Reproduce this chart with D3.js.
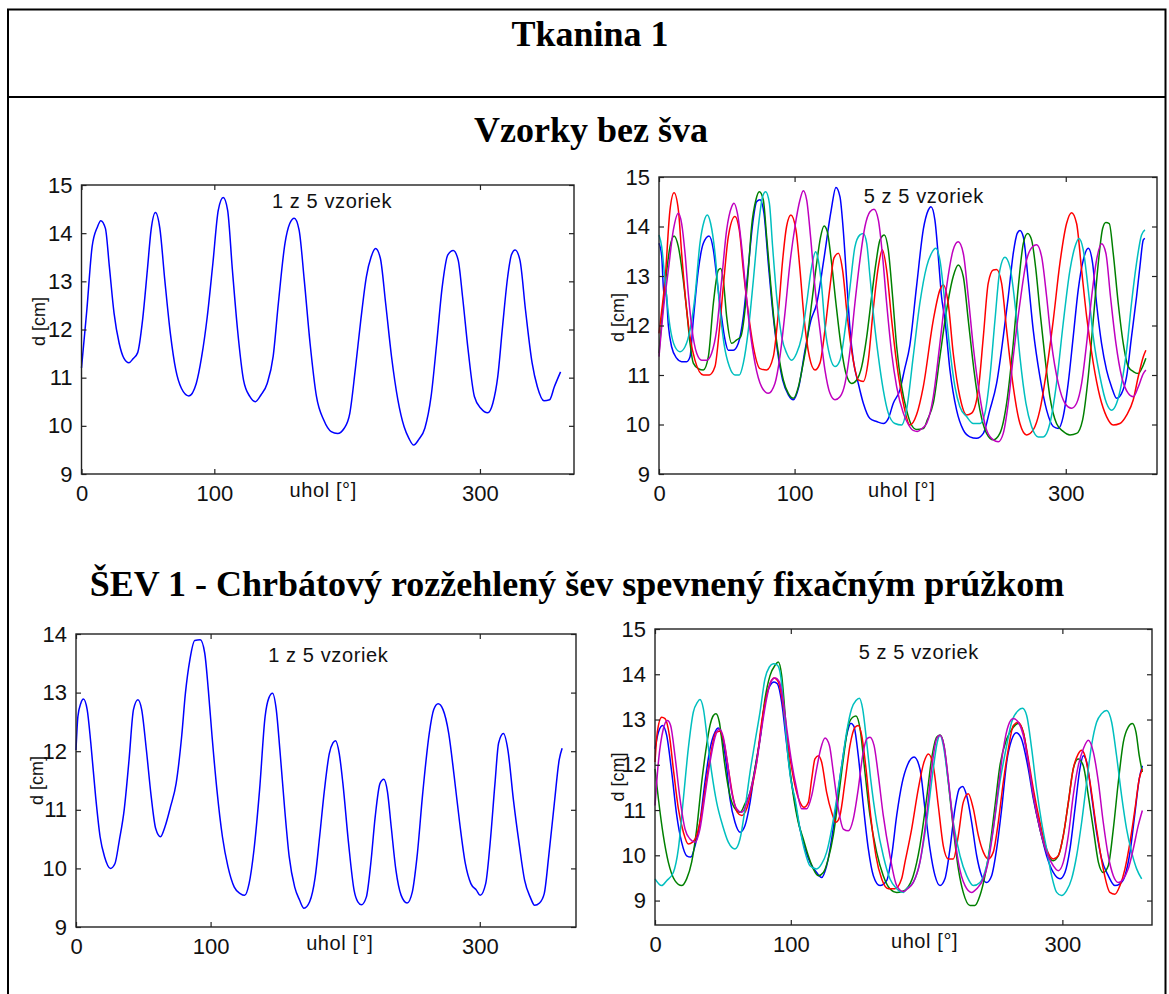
<html>
<head>
<meta charset="utf-8">
<script src="https://d3js.org/d3.v7.min.js"></script>
<style>
  body { margin: 0; background: #fff; }
</style>
</head>
<body>
<script>
// ---- data: [uhol, d] pairs ----
var xTicks = [0, 100, 300];
var yTicks15 = [9, 10, 11, 12, 13, 14, 15];
var yTicks14 = [9, 10, 11, 12, 13, 14];

// Vzorky bez sva, 1 z 5
var tl1 = [[0,11.2],[4,12.4],[8,13.72],[12,14.13],[14.5,14.26],[18,14.1],[21,13.3],[24.5,12.34],[28.4,11.71],[32,11.4],[35.7,11.31],[39,11.4],[42.3,11.52],[46,12.2],[49.6,13.24],[52.4,14.07],[55.7,14.43],[59,14.1],[62.7,13.03],[66.9,11.92],[71,11.16],[75.2,10.78],[80.8,10.62],[86.4,10.88],[90.5,11.44],[94.7,12.27],[98.9,13.37],[103,14.48],[106.7,14.74],[110,14.48],[113.6,13.24],[117.5,11.99],[122,10.95],[126.7,10.61],[130.9,10.5],[135.1,10.64],[139.8,10.88],[144.3,11.44],[148.2,12.54],[153.2,13.79],[156.8,14.2],[160.2,14.31],[163.8,14.07],[167.7,13.03],[172.1,11.71],[176.9,10.61],[182.4,10.12],[188,9.88],[192.8,9.84],[197.8,9.95],[202,10.26],[206.1,11.16],[210.3,12.2],[214.5,13.1],[218.1,13.51],[221.4,13.68],[225,13.48],[229,12.54],[233.4,11.44],[238.2,10.54],[242.9,9.98],[246.5,9.74],[250.1,9.6],[254,9.72],[258.5,9.95],[263.2,10.61],[267.4,11.71],[271.6,12.89],[275.8,13.55],[279.9,13.64],[283.6,13.44],[286.9,12.68],[291.1,11.57],[295.8,10.61],[300.8,10.36],[305.8,10.27],[309.7,10.47],[313.4,11.02],[317,12.06],[320.9,13.1],[323.7,13.55],[326.5,13.65],[330.1,13.44],[334.3,12.4],[339.3,11.3],[343.2,10.81],[348.2,10.52],[352.4,10.54],[356,10.81],[360.7,11.12]];

// Vzorky bez sva, 5 z 5
var trBlue = [[0,13.66],[2,13.4],[3.7,12.6],[5,12.75],[6.9,12.0],[9.3,11.57],[13,11.34],[16.7,11.27],[20.4,11.27],[22.9,11.37],[25.3,12.11],[29,13.12],[32.7,13.66],[36.9,13.81],[40.1,13.53],[42.5,12.99],[45.5,12.31],[48.7,11.71],[51.1,11.5],[54.8,11.5],[58.5,11.64],[62.2,12.18],[65.9,13.19],[69.1,14.06],[72,14.5],[74.5,14.54],[77.4,14.27],[80.6,13.26],[83.8,12.31],[87.3,11.5],[91.2,10.9],[95.4,10.6],[99.1,10.5],[103,10.75],[107.7,11.5],[112,12.1],[116.3,12.44],[121.5,13.32],[127,14.33],[130.5,14.79],[133.5,14.6],[135.9,13.93],[138.4,12.92],[140.9,11.91],[143.3,11.3],[147,10.83],[150.7,10.43],[155.6,10.12],[160.5,10.06],[165.4,10.02],[169.1,10.12],[172.8,10.43],[177.7,10.7],[181,11.1],[185,11.6],[190,12.8],[195,13.95],[198.6,14.33],[200.6,14.4],[203.5,14.13],[206,13.39],[208.4,12.58],[210.9,12.11],[214.6,11.1],[219.5,10.29],[224.4,9.89],[229.3,9.75],[234.2,9.72],[239.2,9.82],[244,10.29],[249,10.83],[253.9,11.77],[257.6,12.58],[261.3,13.46],[264.2,13.86],[266.2,13.92],[268.7,13.79],[272.3,12.92],[276,11.91],[280.9,10.97],[285.9,10.29],[290.8,9.96],[294.5,9.92],[298.1,10.16],[301.8,10.83],[305.5,11.77],[309.2,12.72],[312.9,13.32],[316.6,13.56],[319.8,13.26],[322.7,12.45],[326.4,11.64],[330.1,11.1],[333.8,10.76],[337.5,10.53],[341.2,10.63],[344.9,10.97],[348.5,11.77],[352.2,12.58],[354.7,13.19],[357.2,13.73],[358.4,13.76]];
var trGreen = [[0,11.44],[4.4,12.78],[8.1,13.59],[11.1,13.81],[14.3,13.59],[17.9,12.92],[20.4,12.31],[22.9,11.64],[25.3,11.24],[29,11.13],[32.7,11.1],[36.4,11.37],[40.1,12.45],[43.8,13.12],[45.5,13.15],[47.4,12.92],[49.9,12.18],[53.6,11.64],[57.3,11.71],[60.2,11.77],[63.4,12.31],[65.9,13.12],[68.3,14.0],[71.5,14.54],[74,14.7],[76.9,14.54],[79.4,13.79],[81.9,12.99],[84.8,12.11],[88,11.44],[91.7,10.9],[95.4,10.63],[99.1,10.53],[102.8,10.76],[105.9,11.17],[108.9,11.64],[112.6,12.45],[116.3,13.26],[119.2,13.79],[121.7,14.01],[124.1,13.9],[127.3,13.26],[130.5,12.45],[134,11.64],[137.9,11.03],[142.1,10.83],[145.8,10.9],[149.5,11.17],[153.2,11.77],[156.8,12.58],[160,13.26],[163,13.73],[166.2,13.83],[169.1,13.53],[172.3,12.58],[175.3,11.57],[179,10.76],[182.6,10.29],[186,10.0],[190,9.9],[195,9.92],[198,10.1],[202.3,10.43],[207.2,11.37],[212.1,12.31],[217,12.99],[220.7,13.22],[224.4,12.99],[228.1,12.11],[232.3,11.1],[236.7,10.29],[241.6,9.82],[246.5,9.69],[251.4,9.82],[256.4,10.43],[261.3,11.64],[265,12.78],[268.7,13.66],[271.9,13.86],[274.8,13.73],[278,13.12],[280.9,12.31],[284.6,11.37],[288.3,10.56],[293.2,10.02],[298.1,9.86],[303.1,9.79],[308,9.82],[312.4,10.09],[316.6,10.97],[320.3,12.11],[324,13.26],[327.2,13.96],[329.6,14.08],[332.1,14.06],[335,13.46],[338.7,12.45],[342.4,11.64],[346.1,11.17],[349.8,11.07],[353.5,11.03],[356.7,11.17],[359.1,11.34]];
var trRed = [[0,11.84],[2,12.3],[4.4,12.9],[8.1,14.33],[11.1,14.68],[14.3,14.33],[16.7,13.46],[19.9,12.45],[22.9,11.77],[26.5,11.3],[32.7,11.0],[37.1,11.0],[41.3,11.17],[44.5,11.91],[47.4,12.78],[51.1,13.79],[56,14.2],[59.2,13.93],[62.2,13.12],[65.9,12.25],[69.6,11.57],[74.5,11.13],[79.4,11.1],[84.3,11.37],[88,12.25],[91.2,13.32],[94.1,14.0],[97.3,14.23],[101,13.93],[104,13.12],[106.9,12.18],[110.9,11.37],[115,11.1],[118.7,11.24],[122.4,11.91],[126.1,12.78],[129,13.36],[132.3,13.46],[135.4,13.12],[138.9,12.18],[142.8,11.37],[147,10.9],[150.7,10.87],[154.4,11.3],[158,12.32],[161.8,13.19],[164.7,13.53],[167.9,13.12],[171.6,12.11],[175.3,11.24],[180.2,10.43],[185.1,9.99],[190,10.2],[194.9,10.76],[202.3,12.11],[207.2,12.72],[209.7,12.82],[213.3,12.45],[217,11.44],[221.9,10.56],[226.9,10.19],[230.6,10.23],[235.5,10.7],[239.2,11.77],[242.8,12.85],[246.5,13.12],[249,13.13],[252.7,12.85],[256.4,11.91],[261.3,10.76],[266.2,10.02],[271.1,9.79],[276,9.89],[280.9,10.29],[285.9,11.1],[290.8,12.11],[295.7,13.26],[300.6,14.06],[304.3,14.28],[308,14.06],[311.7,13.12],[315.4,12.18],[320.3,11.24],[325.2,10.56],[330.1,10.16],[335,9.99],[339.9,10.02],[344.9,10.19],[349.8,10.5],[353.5,10.97],[357.2,11.37],[359.1,11.5]];
var trCyan = [[0,13.83],[2,13.59],[4.4,12.92],[8.1,11.98],[11.8,11.57],[15.5,11.47],[19.2,11.57],[22.9,11.91],[26.5,12.58],[30.2,13.66],[33.2,14.1],[35.6,14.23],[38.1,14.06],[41.3,13.46],[44.5,12.45],[47.9,11.64],[51.9,11.17],[56,11.0],[59.2,11.0],[62.2,11.24],[65.9,11.91],[69.6,12.92],[73.3,14.0],[76.4,14.6],[78.7,14.7],[81.4,14.47],[83.8,13.59],[86.8,12.58],[90.5,11.77],[94.2,11.44],[97.8,11.3],[101.5,11.44],[105.2,11.77],[108.9,12.45],[112.6,13.19],[115.5,13.49],[117.5,13.32],[120,12.78],[122.4,11.98],[126.1,11.37],[129.8,11.17],[133.5,11.3],[137.2,11.91],[140.9,12.78],[144.5,13.59],[148.2,13.83],[150.7,13.86],[153.2,13.66],[155.6,12.99],[158.6,12.11],[161.8,11.37],[165.4,10.7],[169.1,10.23],[174,10.02],[179,9.99],[182.6,10.3],[187.5,11.37],[192.4,12.45],[197.4,13.19],[201,13.46],[204.2,13.56],[207.2,13.32],[210.9,12.45],[214.6,11.5],[218.3,10.76],[221.9,10.36],[226.9,10.16],[231.8,10.02],[236.7,10.02],[240.4,10.23],[244.1,10.97],[247.8,12.11],[251.4,13.12],[255.1,13.38],[258.8,13.19],[262.5,12.45],[266.2,11.37],[270.6,10.43],[274.8,9.96],[279.7,9.75],[283.4,9.75],[288.3,10.02],[293.2,10.83],[298.1,12.04],[303.1,13.12],[306.8,13.59],[309.7,13.76],[312.9,13.53],[316.6,12.72],[320.3,11.77],[325.2,10.97],[330.1,10.43],[333.8,10.29],[337.5,10.43],[341.2,10.83],[344.9,11.5],[348.5,12.45],[352.2,13.26],[355.9,13.83],[358.4,13.93]];
var trMagenta = [[0,11.37],[3.2,12.31],[6.9,13.12],[10.6,13.93],[14.3,14.27],[16.7,14.06],[19.2,13.46],[21.6,12.65],[24.1,11.98],[27.8,11.44],[31.5,11.3],[35.2,11.3],[38.8,11.44],[42.5,11.91],[46.2,12.92],[49.9,13.93],[53.6,14.4],[55.3,14.47],[57.8,14.27],[61,13.59],[64.2,12.65],[67.1,11.91],[70.8,11.24],[75.7,10.76],[80.6,10.63],[85.5,10.83],[89.2,11.37],[92.9,12.25],[96.6,13.26],[100.3,14.0],[104,14.54],[106.4,14.72],[108.9,14.54],[111.8,13.79],[115,12.78],[118.7,11.91],[122.4,11.1],[126.1,10.63],[129.8,10.5],[133.5,10.56],[137.2,10.83],[140.9,11.5],[144.5,12.45],[148.2,13.32],[151.9,14.0],[155.6,14.3],[158.6,14.35],[161.8,14.13],[164.7,13.46],[167.9,12.45],[171.6,11.44],[175.3,10.76],[180.2,10.23],[183.9,10.0],[187.5,9.88],[190.5,9.86],[194,9.92],[197.4,10.02],[202.3,10.56],[207.2,11.64],[212.1,12.78],[217,13.53],[220.7,13.69],[224.4,13.46],[228.1,12.58],[231.8,11.57],[236.7,10.56],[241.6,9.89],[246.5,9.69],[250.2,9.65],[253.9,9.82],[257.6,10.43],[261.3,11.37],[266.2,12.45],[271.1,13.32],[275.5,13.59],[278.5,13.63],[282.2,13.39],[285.9,12.58],[289.5,11.64],[294.5,10.83],[299.4,10.43],[304.3,10.33],[308,10.43],[311.7,10.83],[315.4,11.64],[319.1,12.58],[322.7,13.32],[326.4,13.65],[329.6,13.46],[333,12.58],[337,11.64],[341.2,10.97],[346.1,10.63],[349.8,10.56],[353.5,10.76],[357.2,11.03],[359.1,11.1]];

// SEV 1, 1 z 5
var bl1 = [[0,12.02],[1.4,12.59],[3.6,12.82],[5.5,12.89],[8.3,12.71],[11,12.14],[14.6,11.22],[17.9,10.54],[21.2,10.2],[25.6,10.0],[28.9,10.08],[32.2,10.48],[35.8,11.0],[39.4,11.85],[42.7,12.71],[46,12.88],[48.8,12.71],[52.3,12.02],[55.9,11.22],[59.2,10.68],[62.8,10.54],[66.1,10.71],[70.2,11.05],[74.4,11.45],[78.5,12.25],[81.3,12.99],[84.6,13.56],[88.2,13.89],[92.3,13.9],[95.6,13.68],[98.3,13.05],[101.1,12.25],[104.7,11.34],[108.8,10.54],[112.9,10.03],[117.6,9.68],[122,9.57],[125.3,9.54],[128.6,9.74],[132.2,10.31],[136.4,11.34],[140.5,12.59],[143.3,12.91],[146,12.99],[148.8,12.71],[151.5,12.02],[155.1,11.0],[158.4,10.2],[162.5,9.68],[166.1,9.46],[169.4,9.32],[173.6,9.43],[177.7,9.85],[181,10.54],[184.6,11.34],[188.2,11.96],[190.9,12.14],[192.8,12.18],[195.6,11.96],[198.3,11.45],[202.5,10.43],[206.6,9.63],[209.4,9.43],[212.1,9.38],[215.7,9.51],[219,10.08],[222.3,10.88],[225.9,11.45],[228.7,11.52],[231.4,11.31],[234.2,10.71],[237.7,9.97],[241.6,9.54],[246,9.41],[249.9,9.6],[253.4,10.2],[257.6,11.28],[262.5,12.31],[265.8,12.71],[269.1,12.81],[272.7,12.71],[276.9,12.31],[281,11.57],[285.1,10.77],[289.3,10.08],[293.4,9.74],[297.5,9.63],[300.3,9.54],[304.4,9.74],[307.7,10.43],[311.3,11.45],[314,12.14],[317.6,12.3],[320.9,12.02],[325,11.17],[329.2,10.43],[333.3,9.8],[337.5,9.51],[340.8,9.37],[344.4,9.41],[347.9,9.57],[351.2,10.2],[355.4,11.11],[359,11.85],[361.2,12.05]];

// SEV 1, 5 z 5
var brBlue = [[0,12.35],[2.5,12.72],[5.6,12.87],[8.6,12.65],[12.3,11.84],[16,10.88],[19.6,10.29],[23.3,9.99],[26.3,9.96],[29.5,10.21],[33.1,10.73],[36.8,11.62],[40.5,12.35],[44.2,12.72],[46.6,12.81],[49.1,12.65],[52.3,12.06],[55.2,11.25],[58.9,10.73],[62.6,10.51],[66.3,10.66],[70,11.17],[73.6,11.91],[77.3,12.57],[81,13.38],[84.7,13.75],[87.6,13.83],[90.1,13.79],[93.3,13.38],[96.5,12.57],[99.4,11.84],[103.1,11.17],[106.8,10.58],[110.5,10.14],[114.1,9.85],[119,9.62],[122.7,9.51],[126.4,9.77],[130.1,10.36],[133.8,11.17],[137.5,11.98],[141.1,12.65],[144.3,12.92],[146.5,12.85],[149.7,12.2],[153.4,11.1],[157.1,10.14],[160.8,9.55],[165.7,9.33],[170.6,9.44],[174.3,9.99],[178,10.88],[182,11.6],[186,12.0],[190.8,12.17],[195.1,11.91],[198.8,11.03],[202.5,10.14],[206.2,9.55],[209.9,9.33],[213.5,9.48],[217.2,10.14],[220.9,11.03],[224.1,11.47],[226.5,11.52],[229.5,11.32],[233.2,10.73],[236.9,9.99],[240.5,9.55],[244.2,9.4],[247.9,9.55],[251.6,10.14],[255.3,11.03],[259,12.06],[262.6,12.55],[266,12.71],[269.5,12.6],[274.9,11.91],[278.6,11.25],[283.5,10.58],[288.4,9.99],[293.3,9.62],[298.2,9.48],[301.9,9.62],[305.6,10.14],[309.3,11.03],[312.9,11.91],[315.4,12.2],[317.9,12.06],[321.5,11.32],[325.2,10.51],[328.9,9.92],[333.8,9.55],[338.7,9.33],[342.4,9.37],[346.1,9.55],[349.8,10.07],[353.5,10.95],[356.6,11.69],[358.9,11.98]];
var brGreen = [[0,11.91],[2.5,11.25],[6.1,10.44],[9.8,9.85],[14.7,9.44],[19.6,9.33],[23.3,9.48],[27,9.85],[30.7,10.58],[34.4,11.62],[37.6,12.35],[40.5,12.87],[43,13.09],[44.9,13.13],[47.4,12.94],[49.1,12.57],[51.5,11.98],[55.2,11.32],[58.9,11.03],[62.6,10.95],[66.3,11.14],[70,11.39],[73.6,11.91],[77.3,12.57],[81,13.46],[84.7,13.97],[88.4,14.2],[90.8,14.27],[93.3,13.97],[95.7,13.16],[98.2,12.2],[101.9,11.32],[105.5,10.73],[109.2,10.36],[112.9,9.99],[116.6,9.7],[120.3,9.55],[124,9.62],[127.6,9.92],[131.3,10.44],[135,11.25],[138.7,12.13],[142.4,12.87],[145.6,13.05],[148,13.08],[151,12.8],[154.6,11.84],[158.3,10.88],[163.2,10.07],[168.1,9.55],[173,9.26],[178,9.18],[182,9.2],[185.3,9.26],[190.2,9.55],[195.1,10.21],[200,11.25],[203.7,12.13],[207.4,12.61],[209.9,12.66],[212.8,12.43],[216,11.62],[219.7,10.58],[223.4,9.7],[227,9.18],[232,8.89],[235.6,8.89],[239.3,9.11],[243,9.55],[246.7,10.21],[250.4,11.1],[254,11.98],[259,12.57],[263.9,12.83],[267.5,12.91],[271.2,12.72],[274.9,12.06],[278.6,11.32],[283.5,10.58],[288.4,10.07],[293.3,9.88],[297,9.99],[300.7,10.44],[304.4,11.17],[308,11.91],[311.7,12.13],[315.4,11.98],[319.1,11.32],[322.8,10.58],[326.5,9.85],[330.1,9.62],[333.8,9.77],[337.5,10.58],[341.2,11.62],[344.9,12.5],[348.5,12.83],[351.5,12.91],[354.2,12.72],[356.6,12.2],[358.9,11.84]];
var brRed = [[0,12.06],[1.7,12.72],[4.9,13.05],[7.4,13.02],[10.6,12.65],[13.5,11.91],[17.2,11.03],[20.9,10.51],[24.5,10.25],[27.7,10.29],[30.7,10.44],[34.4,10.95],[38,11.69],[41.7,12.35],[44.9,12.72],[47.9,12.74],[50.8,12.5],[54,11.91],[57.7,11.25],[60.6,10.95],[63.8,10.88],[67.5,11.03],[71.2,11.47],[74.9,12.06],[78.5,12.94],[82.2,13.53],[85.2,13.83],[87.6,13.92],[90.8,13.83],[94,13.38],[97,12.65],[99.9,12.06],[103.1,11.54],[106.8,11.17],[109.7,11.06],[112.9,11.17],[115.4,11.69],[117.8,12.13],[120.3,12.2],[122.7,12.06],[126.4,11.39],[130.1,10.95],[133.3,10.73],[136.2,10.88],[139.9,11.62],[143.6,12.43],[147.3,12.83],[149.7,12.87],[152.2,12.65],[155.4,11.91],[158.8,10.88],[162.7,9.99],[166.9,9.48],[171.8,9.26],[176.7,9.26],[181.6,9.48],[184.1,9.85],[189,10.58],[193.9,11.47],[198.1,12.06],[201.3,12.24],[204.9,11.98],[208.6,11.1],[212.3,10.21],[216,9.92],[219.7,9.92],[223.4,10.44],[227,11.17],[230.7,11.36],[234.4,11.03],[238.1,10.44],[241.8,10.07],[245.4,9.92],[249.1,10.07],[252.8,10.73],[256.5,11.62],[260.2,12.35],[263.9,12.87],[267.5,12.94],[271.2,12.72],[274.9,12.13],[278.6,11.47],[283.5,10.73],[288.4,10.14],[293.3,9.92],[297,9.99],[300.7,10.44],[304.4,11.17],[308,11.91],[311.7,12.24],[314.2,12.32],[316.6,12.2],[320.3,11.62],[325.2,10.58],[330.1,9.7],[335,9.18],[338.7,9.14],[342.4,9.33],[346.1,9.7],[349.8,10.29],[353.5,11.03],[356.6,11.69],[358.9,11.91]];
var brCyan = [[0,9.48],[4.9,9.33],[8.6,9.44],[13.5,9.62],[17.2,10.14],[20.9,11.25],[24.5,12.35],[28.2,13.16],[31.2,13.38],[33.1,13.44],[35.6,13.24],[38.5,12.57],[41.7,11.84],[45.4,11.17],[49.8,10.66],[54,10.29],[58.9,10.14],[62.6,10.36],[66.3,11.03],[70,11.84],[73.6,12.5],[77.3,13.16],[81,13.9],[84.2,14.16],[87.1,14.23],[90.1,14.2],[92.5,13.97],[95,13.24],[97.4,12.35],[99.9,11.69],[103.1,11.25],[106.8,10.58],[110.5,10.07],[114.1,9.77],[119,9.7],[122.7,9.81],[126.4,10.07],[130.1,10.58],[133.8,11.25],[137.5,11.98],[141.1,12.72],[144.8,13.24],[148,13.42],[150.5,13.47],[152.9,13.24],[155.9,12.5],[158.8,11.69],[163.2,10.73],[168.1,9.99],[173,9.48],[178,9.26],[182.9,9.18],[185.3,9.26],[190.2,9.4],[195.1,9.85],[200,10.73],[204.9,11.91],[207.9,12.5],[209.9,12.65],[212.3,12.43],[216,11.62],[219.7,10.73],[224.6,9.99],[229.5,9.55],[234.4,9.33],[239.3,9.4],[244.2,9.77],[249.1,10.58],[254,11.62],[259,12.43],[262.6,12.94],[267.5,13.2],[270.7,13.25],[273.7,13.09],[277.4,12.35],[281,11.47],[284.7,10.73],[288.4,10.14],[292.1,9.55],[295.8,9.18],[299.4,9.11],[303.1,9.22],[306.8,9.48],[310.5,9.99],[314.2,10.73],[317.9,11.62],[321.5,12.43],[325.2,12.94],[328.9,13.13],[332.6,13.2],[336.3,12.94],[339.9,12.2],[343.6,11.32],[347.3,10.58],[351,10.07],[354.7,9.7],[358.4,9.48]];
var brMagenta = [[0,11.1],[2.5,12.06],[6.1,12.79],[9.1,12.98],[11.5,12.87],[14.7,12.2],[18.4,11.25],[22.1,10.58],[25.8,10.36],[29.5,10.29],[33.1,10.58],[36.8,11.32],[40.5,12.06],[44.2,12.61],[47.4,12.79],[50.3,12.61],[53.3,12.06],[56.5,11.39],[60.1,11.03],[63.8,10.95],[67.5,11.14],[71.2,11.54],[74.9,12.06],[78.5,12.79],[82.2,13.46],[85.2,13.83],[88.4,13.92],[91.6,13.83],[94.5,13.38],[97.4,12.72],[100.6,12.06],[104.3,11.47],[108,11.03],[111.7,11.03],[115.4,11.32],[119,11.91],[122,12.35],[125.2,12.59],[128.4,12.43],[131.3,11.84],[135,11.03],[138.7,10.58],[142.4,10.54],[146,10.8],[149.7,11.47],[152.9,12.2],[155.9,12.57],[158.3,12.61],[161.3,12.43],[164.5,11.76],[168.1,10.88],[173,9.99],[178,9.33],[182.9,9.2],[186,9.26],[190.2,9.4],[195.1,9.85],[200,10.88],[203.7,11.91],[207.4,12.57],[209.9,12.65],[212.8,12.43],[216,11.69],[219.7,10.66],[223.4,9.85],[228.3,9.33],[233.2,9.18],[236.9,9.26],[241.8,9.48],[245.4,9.85],[249.1,10.58],[252.8,11.47],[256.5,12.35],[260.2,12.87],[263.9,13.02],[267.5,12.94],[271.2,12.65],[274.9,12.06],[278.6,11.32],[283.5,10.58],[288.4,10.07],[293.3,9.77],[297,9.66],[300.7,9.85],[304.4,10.44],[308,11.32],[311.7,11.98],[315.4,12.35],[319.1,12.54],[322.8,12.28],[326.5,11.62],[330.1,10.73],[333.8,9.99],[337.5,9.55],[341.2,9.4],[344.9,9.48],[348.5,9.7],[352.2,10.14],[355.9,10.66],[358.9,10.99]];

// MATLAB colour order
var colors = ['#0000ff', '#008000', '#ff0000', '#00bfbf', '#bf00bf'];

var svg = d3.select('body').append('svg')
    .attr('width', 1169)
    .attr('height', 994)
    .style('display', 'block');

// page frame of the table
svg.append('path')
    .attr('d', 'M8,994 V9.5 H1165.5 V994 M8,97 H1165.5')
    .attr('fill', 'none').attr('stroke', '#000').attr('stroke-width', 2);

// titles
var serif = '"Liberation Serif", "Times New Roman", serif';
function title(txt, cx, by) {
    svg.append('text').attr('x', cx).attr('y', by)
        .attr('text-anchor', 'middle')
        .attr('font-family', serif).attr('font-weight', 'bold').attr('font-size', 36)
        .text(txt);
}
title('Tkanina 1', 590, 46);
title('Vzorky bez šva', 591, 142);
title('ŠEV 1 - Chrbátový rozžehlený šev spevnený fixačným prúžkom', 577, 596);

var panels = [
    { left: 81.5, right: 574, top: 185, bottom: 474, xMax: 370.8, yDom: [9, 15], yTicks: yTicks15,
      series: [tl1], note: '1 z 5 vzoriek', noteAt: [143.4, 14.52], xlabAt: 182, ylabX: -37, ylabY: -8 },
    { left: 659, right: 1157, top: 177, bottom: 474, xMax: 367.3, yDom: [9, 15], yTicks: yTicks15,
      series: [trBlue, trGreen, trRed, trCyan, trMagenta], note: '5 z 5 vzoriek', noteAt: [151, 14.47], xlabAt: 179, ylabX: -35, ylabY: -8 },
    { left: 76, right: 576, top: 634, bottom: 927, xMax: 371.5, yDom: [9, 14], yTicks: yTicks14,
      series: [bl1], note: '1 z 5 vzoriek', noteAt: [142.8, 13.52], xlabAt: 196, ylabX: -33, ylabY: 0 },
    { left: 655, right: 1152, top: 629, bottom: 925, xMax: 366, yDom: [8.46, 15], yTicks: yTicks15,
      series: [brBlue, brGreen, brRed, brCyan, brMagenta], note: '5 z 5 vzoriek', noteAt: [150, 14.34], xlabAt: 198.5, ylabX: -31, ylabY: 0 }
];

var sans = '"Liberation Sans", Arial, sans-serif';

panels.forEach(function(p) {
    var x = d3.scaleLinear().domain([0, p.xMax]).range([p.left, p.right]);
    var y = d3.scaleLinear().domain(p.yDom).range([p.bottom, p.top]);
    var g = svg.append('g');

    var line = d3.line()
        .x(function(d) { return x(d[0]); })
        .y(function(d) { return y(d[1]); })
        .curve(d3.curveMonotoneX);

    p.series.forEach(function(s, i) {
        g.append('path').datum(s)
            .attr('d', line)
            .attr('fill', 'none')
            .attr('stroke', colors[i])
            .attr('stroke-width', 1.5)
            .attr('stroke-linejoin', 'round');
    });

    // axes, ticks pointing inwards on all four sides
    function style(a) {
        a.select('.domain').remove();
        a.selectAll('line').attr('stroke', '#222').attr('stroke-width', 1.2);
        a.selectAll('text').attr('font-family', sans).attr('font-size', 22).attr('fill', '#111');
    }
    var fmt = d3.format('d');
    g.append('g').attr('transform', 'translate(0,' + p.bottom + ')')
        .call(d3.axisBottom(x).tickValues(xTicks).tickFormat(fmt).tickSizeInner(-5).tickSizeOuter(0).tickPadding(11))
        .call(style);
    g.append('g').attr('transform', 'translate(0,' + p.top + ')')
        .call(d3.axisTop(x).tickValues(xTicks).tickSizeInner(-5).tickSizeOuter(0).tickFormat(''))
        .call(style);
    g.append('g').attr('transform', 'translate(' + p.left + ',0)')
        .call(d3.axisLeft(y).tickValues(p.yTicks).tickFormat(fmt).tickSizeInner(-5).tickSizeOuter(0).tickPadding(9))
        .call(style);
    g.append('g').attr('transform', 'translate(' + p.right + ',0)')
        .call(d3.axisRight(y).tickValues(p.yTicks).tickSizeInner(-5).tickSizeOuter(0).tickFormat(''))
        .call(style);

    // box
    g.append('rect')
        .attr('x', p.left).attr('y', p.top)
        .attr('width', p.right - p.left).attr('height', p.bottom - p.top)
        .attr('fill', 'none').attr('stroke', '#222').attr('stroke-width', 1.4);

    // texts
    g.append('text')
        .attr('x', x(p.noteAt[0])).attr('y', y(p.noteAt[1]))
        .attr('font-family', sans).attr('font-size', 20).attr('letter-spacing', 0.6).attr('fill', '#111')
        .text(p.note);
    g.append('text')
        .attr('x', x(p.xlabAt)).attr('y', p.bottom + 23)
        .attr('text-anchor', 'middle')
        .attr('font-family', sans).attr('font-size', 20).attr('letter-spacing', 0.6).attr('fill', '#111')
        .text('uhol [°]');
    g.append('text')
        .attr('transform', 'translate(' + (p.left + p.ylabX) + ',' + ((p.top + p.bottom) / 2 + p.ylabY) + ') rotate(-90)')
        .attr('text-anchor', 'middle')
        .attr('font-family', sans).attr('font-size', 18).attr('fill', '#111')
        .text('d [cm]');
});
</script>
</body>
</html>
